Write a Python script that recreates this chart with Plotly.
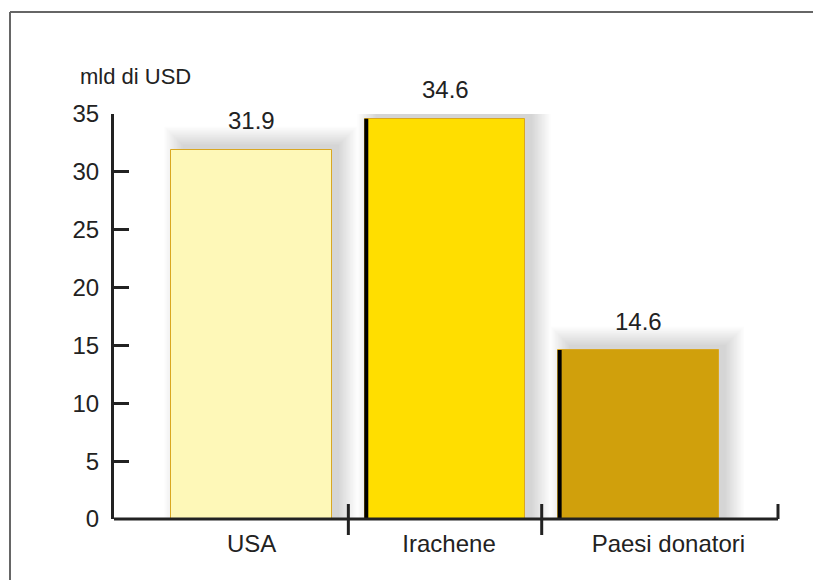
import plotly.graph_objects as go

# Data
categories = ["USA", "Irachene", "Paesi donatori"]
values = [31.9, 34.6, 14.6]
value_labels = ["31.9", "34.6", "14.6"]
bar_colors = ["#FEF8B8", "#FFDE00", "#D0A00C"]
black_edge = [False, True, True]
y_ticks = [0, 5, 10, 15, 20, 25, 30, 35]
y_unit = "mld di USD"

FONT = "Liberation Sans, Arial, sans-serif"
TXT = "#222222"
FS = 24

# Plot geometry (pixels) used to convert shadow offsets to data units
L, R, T, B = 114, 35, 114, 61
W, H = 813, 580
XR = [-0.712, 2.722]
YR = [0, 35]
px_x = (XR[1] - XR[0]) / (W - L - R)
px_y = (YR[1] - YR[0]) / (H - T - B)
BAR_W = 0.83
# horizontal nudge (px) of each category label from its bar centre
label_nudge_px = [0, 4, 30]

xs = list(range(len(categories)))
label_pos = [i + d * px_x for i, d in zip(xs, label_nudge_px)]

fig = go.Figure()
fig.add_trace(go.Bar(
    x=xs, y=values, width=BAR_W,
    marker=dict(color=bar_colors, line=dict(color="#D9A722", width=1)),
    hoverinfo="skip",
))

shapes = []
# soft drop shadow behind each bar
for i, v in enumerate(values):
    x0 = i - BAR_W / 2
    x1 = i + BAR_W / 2
    for k in range(14):
        g = 1 + k * 1.4
        shapes.append(dict(
            type="rect", xref="x", yref="y", layer="below",
            x0=x0 + (12 - g) * px_x, x1=x1 + (6 + g) * px_x,
            y0=0, y1=v + (4 + g) * px_y,
            fillcolor="rgba(120,116,112,0.018)", line=dict(width=0),
        ))
    if black_edge[i]:
        shapes.append(dict(
            type="line", xref="x", yref="y", layer="above",
            x0=x0 + 1.5 * px_x, x1=x0 + 1.5 * px_x, y0=0, y1=v,
            line=dict(color="#000000", width=4),
        ))

# x axis baseline with a tick at the right end and category separators
shapes.append(dict(type="line", xref="paper", yref="paper", x0=0, x1=1, y0=0, y1=0,
                   line=dict(color=TXT, width=3)))
shapes.append(dict(type="line", xref="paper", yref="paper", x0=1, x1=1, y0=0, y1=15 / 405,
                   line=dict(color=TXT, width=3)))
for sep in [0.5, 1.5]:
    shapes.append(dict(type="line", xref="x", yref="paper", x0=sep, x1=sep,
                       y0=-16 / 405, y1=15 / 405, line=dict(color=TXT, width=3)))

# outer frame (top and left)
fx = (10 - L) / (W - L - R)
fy = (H - B - 12) / (H - T - B)
shapes.append(dict(type="line", xref="paper", yref="paper", x0=fx, x1=1.2, y0=fy, y1=fy,
                   line=dict(color="#666666", width=2)))
shapes.append(dict(type="line", xref="paper", yref="paper", x0=fx, x1=fx, y0=fy, y1=-0.3,
                   line=dict(color="#666666", width=2)))

annotations = []
for i, (v, t) in enumerate(zip(values, value_labels)):
    annotations.append(dict(x=i, y=v, xref="x", yref="y", text=t, showarrow=False,
                            yshift=29, font=dict(family=FONT, size=FS, color=TXT)))
annotations.append(dict(x=(135 - L) / (W - L - R), y=(H - B - 77) / (H - T - B),
                        xref="paper", yref="paper", text=y_unit, showarrow=False,
                        xanchor="center", yanchor="middle",
                        font=dict(family=FONT, size=22, color=TXT)))

fig.update_layout(
    width=W, height=H,
    margin=dict(l=L, r=R, t=T, b=B, pad=0),
    paper_bgcolor="white", plot_bgcolor="white",
    showlegend=False, bargap=0,
    shapes=shapes, annotations=annotations,
    xaxis=dict(range=XR, tickmode="array", tickvals=label_pos, ticktext=categories,
               showgrid=False, zeroline=False, showline=False, ticks="",
               tickfont=dict(family=FONT, size=FS, color=TXT),
               ticklabelstandoff=8, fixedrange=True),
    yaxis=dict(range=YR, tickmode="array", tickvals=y_ticks,
               showgrid=False, zeroline=False, showline=True, linewidth=3, linecolor=TXT,
               ticks="inside", ticklen=15, tickwidth=3, tickcolor=TXT,
               tickfont=dict(family=FONT, size=FS, color=TXT),
               ticklabelstandoff=7, fixedrange=True),
)

fig.write_html("out.html")
